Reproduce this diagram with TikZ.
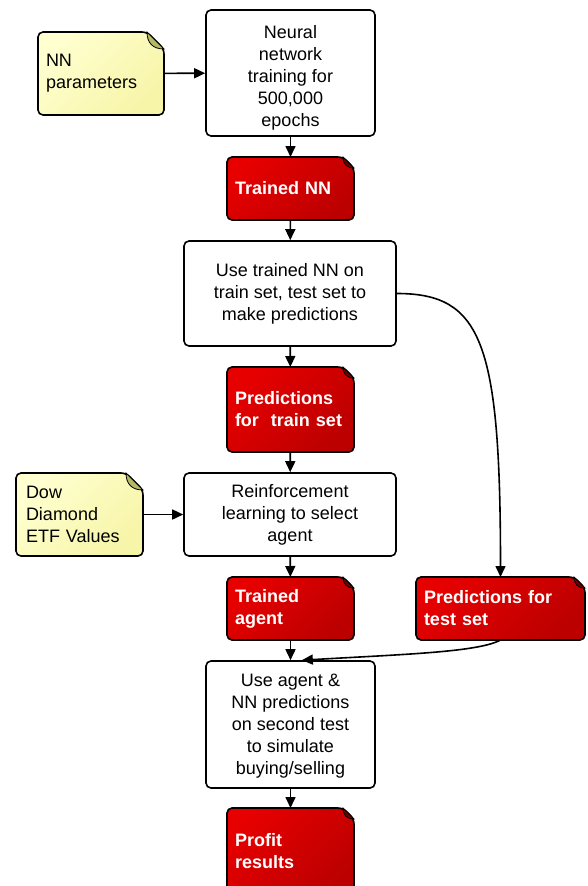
\documentclass[tikz,border=0pt]{standalone}
\usepackage{fontspec}
\setmainfont{Liberation Sans}
\usetikzlibrary{calc,arrows.meta}

\definecolor{redA}{RGB}{230,0,0}
\definecolor{redB}{RGB}{188,0,0}
\definecolor{redCurl}{RGB}{110,0,0}
\definecolor{yelA}{RGB}{255,255,208}
\definecolor{yelB}{RGB}{247,245,168}
\definecolor{yelCurl}{RGB}{182,184,104}

% rectangle with its top right corner folded over
\makeatletter
\pgfkeys{/pgf/dogear size/.initial=10pt, /pgf/dogear color/.initial=gray}
\def\dg@corners{%
  \pgfmathsetlength\pgfutil@tempdima{\pgfkeysvalueof{/pgf/dogear size}}%
  \southwest \edef\dg@xa{\the\pgf@x}\edef\dg@ya{\the\pgf@y}%
  \northeast \edef\dg@xb{\the\pgf@x}\edef\dg@yb{\the\pgf@y}%
  \pgfutil@tempdimb=\dg@xb \advance\pgfutil@tempdimb by -\pgfutil@tempdima
  \edef\dg@xc{\the\pgfutil@tempdimb}%
  \pgfutil@tempdimb=\dg@yb \advance\pgfutil@tempdimb by -\pgfutil@tempdima
  \edef\dg@yc{\the\pgfutil@tempdimb}%
  \pgfutil@tempdimb=\dg@yb \advance\pgfutil@tempdimb by -.65\pgfutil@tempdima
  \edef\dg@yd{\the\pgfutil@tempdimb}%
  \pgfutil@tempdimb=\dg@xb \advance\pgfutil@tempdimb by -.65\pgfutil@tempdima
  \edef\dg@xd{\the\pgfutil@tempdimb}%
  \pgfutil@tempdimb=\dg@ya \advance\pgfutil@tempdimb by \dg@yb
  \pgfutil@tempdimb=.5\pgfutil@tempdimb
  \edef\dg@ym{\the\pgfutil@tempdimb}%
}
\pgfdeclareshape{dogear}{
  \inheritsavedanchors[from=rectangle]
  \inheritanchorborder[from=rectangle]
  \inheritanchor[from=rectangle]{center}
  \inheritanchor[from=rectangle]{north}
  \inheritanchor[from=rectangle]{south}
  \inheritanchor[from=rectangle]{east}
  \inheritanchor[from=rectangle]{west}
  \inheritanchor[from=rectangle]{north east}
  \inheritanchor[from=rectangle]{north west}
  \inheritanchor[from=rectangle]{south east}
  \inheritanchor[from=rectangle]{south west}
  \backgroundpath{
    \dg@corners
    \pgfpathmoveto{\pgfqpoint{\dg@xa}{\dg@ym}}
    \pgfpathlineto{\pgfqpoint{\dg@xa}{\dg@yb}}
    \pgfpathlineto{\pgfqpoint{\dg@xc}{\dg@yb}}
    \pgfpathlineto{\pgfqpoint{\dg@xb}{\dg@yc}}
    \pgfpathlineto{\pgfqpoint{\dg@xb}{\dg@ya}}
    \pgfpathlineto{\pgfqpoint{\dg@xa}{\dg@ya}}
    \pgfpathclose
  }
  \beforeforegroundpath{
    \dg@corners
    \pgfscope
      \pgfsetcornersarced{\pgfpointorigin}
      \pgfsetlinewidth{0.8pt}
      \pgfsetfillcolor{\pgfkeysvalueof{/pgf/dogear color}}
      \pgfsetstrokecolor{black}
      \pgfpathmoveto{\pgfqpoint{\dg@xc}{\dg@yb}}
      \pgfpathcurveto{\pgfqpoint{\dg@xc}{\dg@yd}}{\pgfqpoint{\dg@xd}{\dg@yc}}{\pgfqpoint{\dg@xb}{\dg@yc}}
      \pgfpathclose
      \pgfusepath{fill,stroke}
    \endpgfscope
  }
}
\makeatother

\tikzset{
  box/.style={draw, fill=white, rounded corners=5pt, line width=1.6pt,
    align=center, font=\fontsize{18}{22}\selectfont},
  sheet/.style={shape=dogear, dogear size=#1, draw, rounded corners=5pt,
    line width=1.6pt, outer sep=0pt, align=left, inner xsep=8pt},
  doc/.style={sheet=11pt, dogear color=redCurl, top color=redA, bottom color=redB,
    shading angle=45, text=white, font=\fontsize{18}{22}\selectfont\bfseries},
  note/.style={sheet=17pt, dogear color=yelCurl, top color=yelA, bottom color=yelB,
    shading angle=45, font=\fontsize{18}{22}\selectfont},
  link/.style={line width=1.6pt, -{Triangle[length=11pt,width=10pt]}}
}

\begin{document}
\begin{tikzpicture}[x=1pt, y=-1pt]
  \useasboundingbox (0,0) rectangle (587,886);

  % main column
  \node[box, minimum width=169pt, minimum height=126pt] (train) at (290.5,73)
    {\rule{0pt}{23pt}Neural\\network\\training for\\500,000\\epochs};
  \node[doc, text width=111pt, minimum width=127pt, minimum height=63pt] (trained) at (290.5,188.5)
    {Trained NN};
  \node[box, minimum width=212pt, minimum height=105pt] (usenn) at (290,293.5)
    {Use trained NN on\\train set, test set to\\make predictions};
  \node[doc, text width=111pt, minimum width=127pt, minimum height=85pt] (predtrain) at (290.5,409.5)
    {Predictions\\for\ \ train set};
  \node[box, minimum width=212pt, minimum height=83pt] (rl) at (290,514.5)
    {Reinforcement\\learning to select\\agent};
  \node[doc, text width=111pt, minimum width=127pt, minimum height=63pt] (agent) at (290.5,608.5)
    {Trained\\agent};
  \node[box, minimum width=169pt, minimum height=127pt] (simul) at (290.5,724.5)
    {\rule{0pt}{16pt}Use agent \&\\NN predictions\\on second test\\to simulate\\buying/selling};
  \node[doc, text width=111pt, minimum width=127pt, minimum height=86pt] (profit) at (290.5,851)
    {Profit\\results};

  % side inputs
  \node[note, text width=110pt, minimum width=126pt, minimum height=83pt] (nnpar) at (101,73.5)
    {NN\\parameters};
  \node[note, inner xsep=10pt, text width=107pt, minimum width=127pt, minimum height=83pt] (dow) at (79.5,514.5)
    {Dow\\Diamond\\ETF Values};
  \node[doc, text width=153pt, minimum width=169pt, minimum height=63pt] (predtest) at (500.5,608.5)
    {Predictions for\\test set};

  % arrows
  \draw[link] (nnpar) -- (train);
  \draw[link] (train) -- (trained);
  \draw[link] (trained) -- (usenn);
  \draw[link] (usenn) -- (predtrain);
  \draw[link] (predtrain) -- (rl);
  \draw[link] (dow) -- (rl);
  \draw[link] (rl) -- (agent);
  \draw[link] (agent) -- (simul);
  \draw[link] (simul) -- (profit);
  \draw[link] (usenn.east) .. controls +(85,0) and +(0,-235) .. (predtest.north);
  \draw[link] (predtest.south) .. controls +(-22,12) and +(105,-6) .. (simul.80);
\end{tikzpicture}
\end{document}
